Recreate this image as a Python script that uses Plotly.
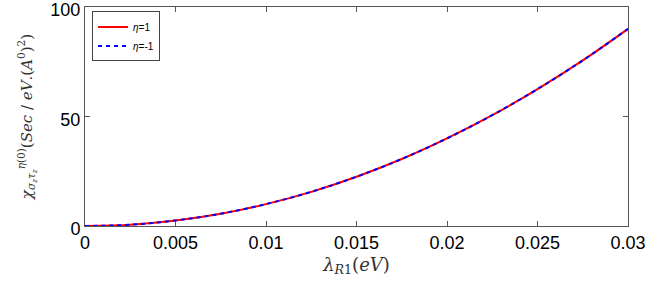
import plotly.graph_objects as go

lam = [0, 0.0025, 0.005, 0.0075, 0.01, 0.0125, 0.015, 0.0175, 0.02, 0.0225, 0.025, 0.0275, 0.03]
chi_p = [0, 0.6, 2.5, 5.6, 10.0, 15.6, 22.5, 30.6, 40.0, 50.6, 62.5, 75.6, 90.0]
chi_m = [0, 0.6, 2.5, 5.6, 10.0, 15.6, 22.5, 30.6, 40.0, 50.6, 62.5, 75.6, 90.0]
xticks = [0, 0.005, 0.01, 0.015, 0.02, 0.025, 0.03]
xticklabels = ["0", "0.005", "0.01", "0.015", "0.02", "0.025", "0.03"]
yticks = [0, 50, 100]
yticklabels = ["0", "50", "100"]

fig = go.Figure()
fig.add_trace(go.Scatter(x=lam, y=chi_p, mode="lines", name="<i>η</i>=1",
                         line=dict(color="red", width=2, shape="spline")))
fig.add_trace(go.Scatter(x=lam, y=chi_m, mode="lines", name="<i>η</i>=-1",
                         line=dict(color="blue", width=2, dash="4px,4px", shape="spline")))

axis_common = dict(showline=True, linecolor="#555", linewidth=1, mirror="ticks",
                   ticks="inside", ticklen=5, tickcolor="#555", showgrid=False, zeroline=False,
                   automargin=False, ticklabeloverflow="allow",
                   tickfont=dict(family="Liberation Sans, Arial", size=18, color="black"))
fig.update_xaxes(range=[0, 0.03], tickvals=xticks, ticktext=xticklabels,
                 title=dict(text="<i>λ</i><sub><i>R</i>1</sub>(<i>eV</i>)",
                            font=dict(family="DejaVu Serif, Liberation Serif", size=18, color="#333"),
                            standoff=6),
                 **axis_common)
fig.update_yaxes(range=[0, 100], tickvals=yticks, ticktext=yticklabels, ticklabelshift=3,
                 title=dict(text="<i>χ</i><sub><i>σ<sub>z</sub>τ<sub>z</sub></i></sub><sup><i>η</i>(0)</sup>(<i>Sec</i> / <i>eV</i>.(<i>A</i><sup>0</sup>)<sup>2</sup>)",
                            font=dict(family="DejaVu Serif, Liberation Serif", size=15, color="#333"),
                            standoff=14),
                 **axis_common)

fig.update_layout(width=646, height=283, plot_bgcolor="white", paper_bgcolor="white",
                  margin=dict(l=85, r=18, t=7, b=57),
                  legend=dict(x=0.013, y=0.98, xanchor="left", yanchor="top",
                              bgcolor="white", bordercolor="#444", borderwidth=1,
                              font=dict(family="Liberation Sans, Arial", size=10, color="black"),
                              itemwidth=30, tracegroupgap=0),
                  )
fig.write_html("out.html", config={"displayModeBar": False},
               post_script="document.body.style.margin='0';")
